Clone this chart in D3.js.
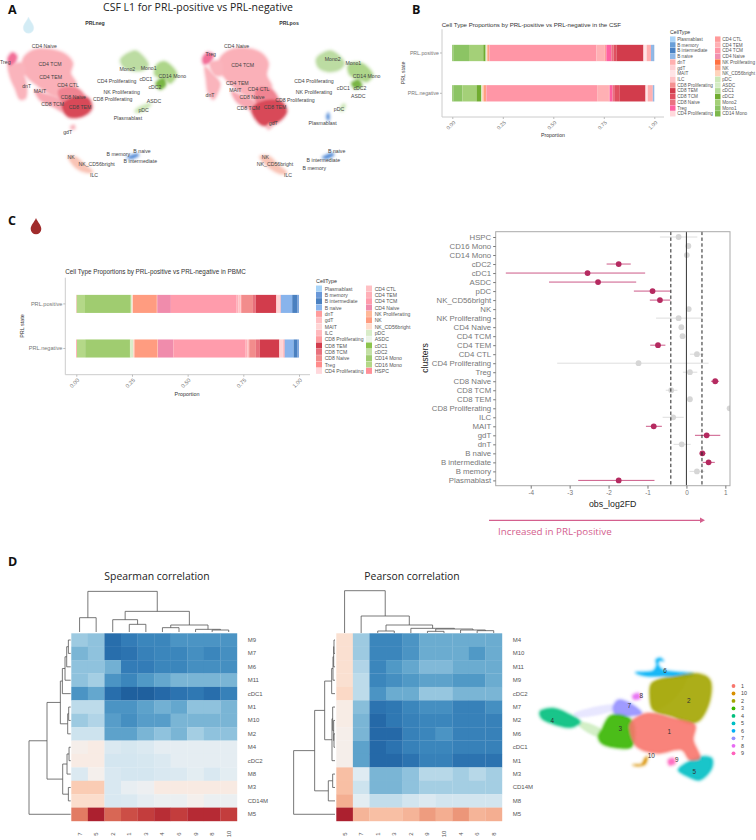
<!DOCTYPE html>
<html><head><meta charset="utf-8">
<script src="https://cdn.jsdelivr.net/npm/d3@7"></script>
<style>
html,body{margin:0;padding:0;background:#fff}
svg{display:block}
text{font-family:"Liberation Sans",Arial,sans-serif}
.os{font-family:"Open Sans",sans-serif}
</style></head><body>
<svg id="fig" width="756" height="840"></svg>
<script>
// ---------- Panel B data (legend order, stacked right to left)
const csfTypes=["Plasmablast","B memory","B intermediate","B naive","dnT","gdT","MAIT","ILC","CD8 Proliferating","CD8 TEM","CD8 TCM","CD8 Naive","Treg","CD4 Proliferating","CD4 CTL","CD4 TEM","CD4 TCM","CD4 Naive","NK Proliferating","NK","NK_CD56bright","pDC","ASDC","cDC1","cDC2","Mono2","Mono1","CD14 Mono"];
const csfColors=["#aad4f8","#6a9fd8","#4a82c4","#90b8e8","#ffb0b0","#ffd0d4","#ffe4e6","#ffc4c8","#f49090","#d23c4c","#e05060","#ea7080","#ff60a0","#ffd8dc","#ff9a9a","#ffb0b4","#ff96a6","#f090b0","#ff7040","#ffa080","#ffd4bc","#cce8b8","#d4ecc4","#b4dc98","#70ac30","#a4d078","#8cc464","#7cb84c"];
const csfPositive=[.0005,.002,.002,.012,.021,.002,.013,.001,.001,.134,.013,.012,.025,.001,.008,.040,.531,.002,.001,.008,.004,.002,.001,.002,.011,.071,.078,.005];
const csfNegative=[.0005,.001,.001,.005,.025,.002,.008,.001,.001,.128,.024,.012,.015,.001,.005,.056,.553,.002,.001,.012,.007,.002,.001,.002,.023,.071,.045,.005];
// ---------- Panel C data
const pbmcTypes=["Plasmablast","B memory","B intermediate","B naive","dnT","gdT","MAIT","ILC","CD8 Proliferating","CD8 TEM","CD8 TCM","CD8 Naive","Treg","CD4 Proliferating","CD4 CTL","CD4 TEM","CD4 TCM","CD4 Naive","NK Proliferating","NK","NK_CD56bright","pDC","ASDC","cDC1","cDC2","CD14 Mono","CD16 Mono","HSPC"];
const pbmcColors=["#a8d4f8","#6a98d8","#4a80c0","#88b4ec","#ff9c9c","#ffc0c4","#ffd4d4","#ffb8bc","#ff9ca0","#d23c4c","#e8707c","#f28c8c","#ff8c8c","#ffd8dc","#ffc0c4","#ffb0b8","#ff9cac","#f08cac","#ffb898","#ff9c80","#ffdccc","#d8ecc8","#ecf4e8","#8cc44c","#c4e0a4","#a0cc70","#b4d888","#ff9098"];
const pbmcPositive=[.0005,.006,.024,.051,.002,.004,.012,.002,.001,.091,.013,.050,.004,.001,.010,.008,.295,.061,.002,.107,.004,.003,.001,.001,.001,.205,.037,.002];
const pbmcNegative=[.0005,.006,.018,.040,.003,.006,.013,.002,.001,.087,.018,.030,.003,.001,.005,.007,.326,.070,.002,.104,.006,.009,.002,.001,.002,.202,.037,.003];
const stateLabels=["PRL.positive","PRL.negative"];
const proportionTicks=[0,.25,.5,.75,1];
// ---------- Forest plot data
const forestClusters=["HSPC","CD16 Mono","CD14 Mono","cDC2","cDC1","ASDC","pDC","NK_CD56bright","NK","NK Proliferating","CD4 Naive","CD4 TCM","CD4 TEM","CD4 CTL","CD4 Proliferating","Treg","CD8 Naive","CD8 TCM","CD8 TEM","CD8 Proliferating","ILC","MAIT","gdT","dnT","B naive","B intermediate","B memory","Plasmablast"];
const forestFD=[-.2,.05,.01,-1.74,-2.54,-2.27,-.87,-.68,.06,-.2,-.13,-.10,-.73,.27,-1.23,.09,.74,-.39,.09,1.11,-.34,-.84,.52,-.12,.41,.57,.27,-1.74];
const forestLow=[-.68,.03,-.01,-2.05,-4.64,-3.53,-1.35,-.94,.04,-.78,-.15,-.12,-.93,.09,-3.32,-.09,.63,-.53,.07,1.09,-.61,-1.04,.22,-.33,.35,.42,.08,-2.78];
const forestHigh=[.28,.07,.03,-1.43,-1.06,-1.29,-.41,-.41,.08,.39,-.11,-.08,-.54,.44,.57,.28,.84,-.23,.11,1.13,-.07,-.63,.87,.11,.49,.73,.46,-.82];
const forestSignificant=[0,0,0,1,1,1,1,1,0,0,0,0,1,0,0,0,1,0,0,0,0,1,1,0,1,1,0,1];
const forestTicks=[-4,-3,-2,-1,0,1];
const forestThresholds=[-.4,.4];
// ---------- Heatmap data
const spearmanCols=["7","5","2","1","3","4","6","9","8","10"];
const spearmanRows=["M9","M7","M6","M11","cDC1","M1","M10","M2","M4","cDC2","M8","M3","CD14M","M5"];
const spearmanValues=[
[-.36,-.40,-.76,-.70,-.66,-.66,-.60,-.60,-.60,-.60],
[-.46,-.40,-.76,-.74,-.68,-.66,-.66,-.62,-.66,-.62],
[-.40,-.40,-.48,-.70,-.70,-.66,-.66,-.62,-.62,-.62],
[-.40,-.34,-.60,-.66,-.58,-.52,-.46,-.46,-.46,-.46],
[-.60,-.52,-.76,-.82,-.82,-.78,-.74,-.72,-.76,-.68],
[-.26,-.26,-.60,-.60,-.54,-.48,-.52,-.40,-.40,-.46],
[-.36,-.30,-.56,-.62,-.56,-.56,-.46,-.46,-.46,-.46],
[-.20,-.20,-.54,-.54,-.46,-.40,-.46,-.34,-.40,-.40],
[.03,.07,-.14,-.16,-.14,-.09,-.09,-.09,-.09,-.09],
[.07,.07,-.17,-.17,-.16,-.14,-.09,-.09,-.09,-.09],
[-.14,.02,-.15,-.17,-.17,-.15,-.14,-.10,-.15,-.10],
[.25,.25,-.15,-.07,-.04,.08,.08,.08,.08,.08],
[.17,.17,-.15,-.14,-.09,-.05,-.05,.02,-.05,-.05],
[.52,.80,.58,.65,.70,.75,.70,.76,.76,.70]];
const pearsonCols=["5","7","1","3","2","9","10","4","6","8"];
const pearsonRows=["M4","M10","M11","M9","cDC2","M7","M2","M6","cDC1","M1","M3","CD14M","M8","M5"];
const pearsonValues=[
[.15,-.36,-.66,-.66,-.60,-.50,-.50,-.50,-.50,-.50],
[.15,-.36,-.66,-.66,-.60,-.50,-.50,-.50,-.58,-.50],
[.15,-.30,-.66,-.58,-.52,-.44,-.44,-.50,-.50,-.50],
[.15,-.26,-.66,-.62,-.58,-.54,-.54,-.58,-.58,-.50],
[.19,-.26,-.60,-.50,-.50,-.38,-.38,-.46,-.46,-.46],
[.06,-.42,-.74,-.72,-.66,-.62,-.62,-.68,-.68,-.62],
[.06,-.46,-.78,-.72,-.68,-.66,-.66,-.68,-.68,-.68],
[.03,-.46,-.78,-.78,-.68,-.66,-.60,-.68,-.68,-.68],
[.03,-.54,-.78,-.74,-.68,-.66,-.66,-.68,-.68,-.68],
[.03,-.54,-.78,-.78,-.74,-.68,-.68,-.74,-.74,-.74],
[.30,-.12,-.46,-.46,-.40,-.28,-.28,-.34,-.28,-.34],
[.30,-.20,-.46,-.46,-.40,-.34,-.34,-.34,-.34,-.34],
[.36,-.10,-.24,-.24,-.18,-.14,-.18,-.18,-.18,-.18],
[.80,.34,.30,.30,.34,.42,.36,.44,.34,.36]];
// dendrograms: [height, left, right]; a string is a leaf
const spearmanColTree=[122,[43,"7","5"],[62,[37,"2",[23,"1","3"]],[21,[13,"4","6"],[8,"9",[6,"8","10"]]]]];
const spearmanRowTree=[125,[71,[31,[25,[17,[12,[7,"M9","M7"],"M6"],"M11"],"cDC1"],[9,[6,"M1","M10"],"M2"]],[24,[11,[5,"M4","cDC2"],"M8"],[7,"M3","CD14M"]]],"M5"];
const pearsonColTree=[127,"5",[51,"7",[24,[6,"1","3"],[14,"2",[12,[5,"9","10"],[9,"4",[7,"6","8"]]]]]]];
const pearsonRowTree=[124,[61,[31,[10,[6,[4,[3,"M4","M10"],"M11"],"M9"],"cDC2"],[9,[7,"M7",[4,"M2",[3,"M6","cDC1"]]],"M1"]],[20,[7,"M3","CD14M"],"M8"]],"M5"];
// ---------- UMAP outlines, in a shared reading grid of the picture
const umapColors={tcell:"#fab0b8",strip:"#f8a8b2",dnt:"#fab4bc",cd8n:"#f08492",cd8t:"#d84a58",treg:"#f27098",gdt:"#f8b8c0",mono:"#bcdca2",cd14:"#aed68a",cdc2:"#79b544",pdc:"#cfe8ba",nk:"#f9c4b6",bcell:"#5a90d8"};
const csfNegBlobs=[
["tcell",[[70,175],[100,150],[150,148],[195,162],[218,188],[212,220],[228,250],[215,270],[175,290],[145,280],[110,255],[85,235],[68,205]]],
["strip",[[105,270],[130,280],[180,300],[190,335],[160,320],[120,300]]],
["dnt",[[25,195],[45,200],[70,225],[80,260],[76,295],[60,298],[45,265],[30,230]]],
["dnt",[[40,195],[70,190],[75,225],[60,220]]],
["cd8n",[[175,270],[225,262],[255,290],[250,320],[200,320],[180,300]]],
["cd8t",[[185,315],[225,290],[265,295],[275,325],[250,348],[205,350]]],
["treg",[[25,172],[38,158],[50,168],[46,185],[30,197],[24,185]]],
["gdt",[[212,380],[222,375],[225,385],[215,388]]],
["mono",[[362,178],[405,152],[425,165],[445,195],[430,210],[400,212],[370,200]]],
["cd14",[[470,195],[495,185],[530,222],[510,250],[495,238],[465,225]]],
["cdc2",[[468,250],[490,235],[497,255],[480,268]]],
["pdc",[[405,335],[412,325],[450,310],[452,315],[420,337]]],
["nk",[[205,470],[225,470],[255,495],[278,515],[262,518],[230,505]]],
["bcell",[[382,472],[412,462],[415,466],[395,476]]]];
const csfPosBlobs=[
["tcell",[[660,175],[690,150],[740,145],[785,160],[805,188],[800,225],[815,260],[800,280],[765,295],[735,285],[700,260],[675,235],[658,205]]],
["strip",[[695,275],[720,285],[770,310],[780,345],[750,330],[710,305]]],
["dnt",[[615,200],[640,225],[660,250],[650,285],[640,298],[625,280],[618,235]]],
["dnt",[[630,190],[665,185],[665,225],[645,225]]],
["cd8n",[[770,265],[810,265],[835,300],[825,325],[780,325],[765,295]]],
["cd8t",[[755,325],[800,300],[845,305],[860,335],[830,368],[785,375]]],
["treg",[[608,175],[622,158],[640,165],[630,185],[612,192]]],
["gdt",[[800,378],[812,368],[815,380],[805,388]]],
["mono",[[950,175],[990,152],[1015,165],[1033,190],[1020,208],[985,215],[955,202]]],
["cd14",[[1045,195],[1085,190],[1118,225],[1100,245],[1080,238],[1050,225]]],
["cdc2",[[1055,250],[1075,240],[1085,258],[1065,265]]],
["pdc",[[1020,330],[1030,312],[1036,315],[1028,333]]],
["bcell",[[980,350],[985,340],[988,352],[985,360]]],
["nk",[[780,470],[805,468],[835,495],[860,518],[845,522],[810,505]]],
["bcell",[[968,472],[998,460],[1000,466],[980,476]]]];
const csfNegLabels=[["CD4 Naive",133,138],["CD4 TCM",150,192],["Treg",16,187],["CD4 TEM",152,230],["CD4 CTL",204,254],["dnT",80,259],["MAIT",120,272],["CD8 Naive",220,290],["CD8 TCM",158,311],["CD8 TEM",240,322],["gdT",203,397],["Mono2",382,206],["Mono1",446,205],["CD14 Mono",517,228],["cDC1",438,238],["cDC2",465,260],["CD4 Proliferating",350,244],["NK Proliferating",365,275],["CD8 Proliferating",338,296],["ASDC",462,304],["pDC",431,331],["Plasmablast",384,353],["B memory",355,462],["B naive",426,453],["B intermediate",421,483],["NK",213,471],["NK_CD56bright",290,491],["ILC",282,526]];
const csfPosLabels=[["CD4 Naive",710,138],["Treg",632,163],["CD4 TCM",728,194],["CD4 TEM",712,248],["CD4 CTL",776,268],["MAIT",706,270],["dnT",630,285],["CD8 Naive",756,292],["CD8 Proliferating",885,301],["CD8 TCM",745,324],["CD8 TEM",825,322],["gdT",820,370],["Mono2",998,177],["Mono1",1060,190],["CD14 Mono",1100,227],["CD4 Proliferating",942,244],["NK Proliferating",942,277],["cDC1",1030,265],["cDC2",1080,264],["ASDC",1075,287],["pDC",1017,327],["Plasmablast",968,368],["B naive",1010,453],["B intermediate",970,481],["B memory",943,503],["NK",796,471],["NK_CD56bright",825,492],["ILC",864,526]];
const clusterNames=["1","10","2","3","4","5","6","7","8","9"];
const clusterColors=["#f8766d","#d89000","#a3a500","#39b600","#00bf7d","#00bfc4","#00b0f6","#9590ff","#e76bf3","#ff62bc"];
const clusterBlobs=[
["6",[[318,248],[370,242],[380,225],[378,210],[390,204],[400,212],[388,212],[385,225],[400,240],[490,252],[470,260],[400,258],[350,258]]],
["4",[[30,365],[70,355],[115,372],[150,395],[125,412],[70,402],[35,385]]],
["7",[[250,350],[265,330],[300,340],[335,370],[290,378],[255,372]]],
["8",[[308,317],[325,310],[331,324],[312,328]]],
["2",[[365,280],[420,262],[510,252],[540,270],[540,330],[510,390],[480,400],[430,380],[370,360],[360,320]]],
["3",[[215,420],[240,378],[280,375],[310,400],[305,470],[250,472],[215,460],[205,440]]],
["5",[[445,540],[475,515],[510,500],[545,505],[545,535],[510,570],[475,560]]],
["1",[[300,400],[350,370],[430,385],[495,405],[490,450],[510,505],[480,510],[455,480],[380,490],[320,470],[300,430]]],
["9",[[415,510],[430,505],[435,520],[418,525]]],
["10",[[310,525],[335,522],[345,505],[352,500],[345,523],[325,528]]]];
const clusterTrails=[
["7",[[130,372],[250,345],[255,358],[140,382]]],
["3",[[150,395],[215,420],[205,440],[145,405]]],
["2",[[360,300],[395,262],[470,262],[430,330],[370,360]]]];
const clusterLabels=[["1",418,425],["2",476,332],["3",271,415],["4",67,392],["5",493,545],["6",405,240],["7",298,347],["8",334,316],["9",440,508],["10",364,496]];

const svg=d3.select("#fig");
const defs=svg.append("defs");
defs.append("filter").attr("id","soft").attr("x","-10%").attr("y","-10%").attr("width","120%").attr("height","120%").append("feGaussianBlur").attr("stdDeviation",1.3);
defs.append("clipPath").attr("id","forestClip").append("rect").attr("x",495.7).attr("y",231.7).attr("width",234.3).attr("height",254);

function txt(x,y,s,o={}){
  const t=svg.append("text").attr("x",x).attr("y",y).text(s)
   .attr("font-size",o.size||6).attr("fill",o.fill||"#444").attr("text-anchor",o.anchor||"start")
   .attr("dominant-baseline","central");
  if(o.cls)t.attr("class",o.cls);
  if(o.weight)t.attr("font-weight",o.weight);
  if(o.rotate!=null)t.attr("transform",`rotate(${o.rotate} ${x} ${y})`);
  return t;
}
// panel letters and titles
[["A",8,9],["B",412,9],["C",8,220],["D",8,561]].forEach(d=>txt(d[1],d[2],d[0],{size:12.5,fill:"#111",weight:"bold",cls:"os"}));
txt(198,7,"CSF L1 for PRL-positive vs PRL-negative",{size:10.5,anchor:"middle",fill:"#222",cls:"os"});
txt(95,23,"PRLneg",{size:5.2,anchor:"middle",weight:"bold",fill:"#333"});
txt(289,23,"PRLpos",{size:5.2,anchor:"middle",weight:"bold",fill:"#333"});
// droplets
const dropPath="M0,-8 C1.5,-4 5.3,-1 5.3,3 A5.3,5.3 0 0 1 -5.3,3 C-5.3,-1 -1.5,-4 0,-8Z";
svg.append("path").attr("d",dropPath).attr("transform","translate(28.5,25)").attr("fill","#d3ecf5").attr("stroke","#e4f3f8").attr("stroke-width",.5);
svg.append("path").attr("d",dropPath).attr("transform","translate(36,226)").attr("fill","#a02c2c");

// UMAP drawing
const gridX=d3.scaleLinear().domain([0,1200]).range([0,400]);
const gridY=d3.scaleLinear().domain([0,600]).range([0,200]);
const blob=d3.line().x(d=>gridX(d[0])).y(d=>gridY(d[1])).curve(d3.curveCatmullRomClosed);
const ga=svg.append("g").attr("filter","url(#soft)");
const csfAll=csfNegBlobs.concat(csfPosBlobs);
csfAll.forEach(b=>ga.append("path").attr("d",blob(b[1])).attr("fill","none").attr("stroke",umapColors[b[0]]).attr("stroke-width",4).attr("opacity",.3));
csfAll.forEach(b=>ga.append("path").attr("d",blob(b[1])).attr("fill",umapColors[b[0]]));
csfNegLabels.concat(csfPosLabels).forEach(l=>txt(gridX(l[1]),gridY(l[2]),l[0],{size:5.2,anchor:"middle",fill:"#444"}));

// stacked bars
function stacked(c){
  const x=d3.scaleLinear().domain([0,1]).range([c.x0,c.x1]);
  const y=d3.scaleBand().domain(stateLabels).range([c.top,c.bottom]).paddingInner(.595).paddingOuter(.385);
  const rows=stateLabels.map((s,i)=>{const r={state:s};c.types.forEach((t,j)=>r[t]=c.values[i][j]);return r;});
  const keys=c.types.slice().reverse();
  const series=d3.stack().keys(keys).offset(d3.stackOffsetExpand)(rows);
  const color=d3.scaleOrdinal().domain(c.types).range(c.colors);
  const g=svg.append("g");
  g.selectAll("g").data(series).join("g").attr("fill",d=>color(d.key))
   .selectAll("rect").data(d=>d).join("rect")
   .attr("x",d=>x(d[0])).attr("width",d=>Math.max(0,x(d[1])-x(d[0])))
   .attr("y",d=>y(d.data.state)).attr("height",y.bandwidth());
  const ax=svg.append("g").attr("transform",`translate(0,${c.bottom})`).call(d3.axisBottom(x).tickValues(proportionTicks).tickFormat(d3.format(".2f")).tickSize(2).tickSizeOuter(0));
  ax.select(".domain").attr("stroke","#ccc").attr("stroke-width",1).attr("d",`M${c.left},0H${c.right}`);
  ax.selectAll("line").attr("stroke","#bbb");
  ax.selectAll("text").attr("font-family","Liberation Sans").attr("font-size",c.tick).attr("fill","#777").attr("text-anchor","end").attr("dy",0).attr("y",0).attr("transform","translate(1.5,4.5) rotate(-45)").attr("dominant-baseline","central");
  const ay=svg.append("g").attr("transform",`translate(${c.left},0)`).call(d3.axisLeft(y).tickSize(2).tickSizeOuter(0));
  ay.select(".domain").attr("stroke","#ccc").attr("stroke-width",1).attr("d",`M0,${c.top}V${c.bottom}`);
  ay.selectAll("line").attr("stroke","#bbb");
  ay.selectAll("text").attr("font-family","Liberation Sans").attr("font-size",c.tick).attr("fill","#777").attr("x",-3);
  txt(c.title[0],c.title[1],c.title[2],{size:c.titleSize,fill:"#333"});
  txt(c.xlab[0],c.xlab[1],"Proportion",{size:c.lab,anchor:"middle",fill:"#333"});
  txt(c.ylab[0],c.ylab[1],"PRL state",{size:c.lab,anchor:"middle",fill:"#333",rotate:-90});
  // legend
  const L=c.legend;
  txt(L.x,L.y,"CellType",{size:L.titleSize,fill:"#333"});
  c.types.forEach((t,i)=>{
    const col=i<14?0:1,row=i%14,px=L.x+col*L.colStep,py=L.top+row*L.step;
    svg.append("rect").attr("x",px).attr("y",py-L.step/2).attr("width",L.box).attr("height",L.step-.3).attr("fill",c.colors[i]);
    txt(px+L.box+L.gap,py,t,{size:L.size,fill:"#555"});
  });
}
stacked({types:csfTypes,colors:csfColors,values:[csfPositive,csfNegative],x0:452.3,x1:654.3,left:442,right:664,top:29.3,bottom:117,tick:5.2,
 title:[441.7,24,"Cell Type Proportions by PRL-positive vs PRL-negative in the CSF"],titleSize:6.1,lab:5.2,xlab:[553,135],ylab:[403,73],
 legend:{x:670,y:32,titleSize:5.2,top:39.3,step:5.74,colStep:45,box:5.5,gap:1.7,size:4.7}});
stacked({types:pbmcTypes,colors:pbmcColors,values:[pbmcPositive,pbmcNegative],x0:76.3,x1:299,left:65.3,right:310,top:277.7,bottom:374.7,tick:5.6,
 title:[65.3,271.5,"Cell Type Proportions by PRL-positive vs PRL-negative in PBMC"],titleSize:6.3,lab:5.4,xlab:[187,393.7],ylab:[22,326],
 legend:{x:316,y:281,titleSize:5.4,top:288.7,step:6.33,colStep:50,box:6,gap:2.7,size:5.1}});

// forest plot
const fx=d3.scaleLinear().domain([-4.9,1.12]).range([495.7,730]);
const fy=d3.scalePoint().domain(forestClusters).range([237,480.4]);
const pointRed="#b52a60",lineRed="#cc5a88",grey="#d6d6d6";
const fg=svg.append("g").attr("clip-path","url(#forestClip)");
fg.selectAll("line.err").data(forestClusters).join("line").attr("class","err")
 .attr("x1",(d,i)=>fx(forestLow[i])).attr("x2",(d,i)=>fx(forestHigh[i])).attr("y1",d=>fy(d)).attr("y2",d=>fy(d))
 .attr("stroke",(d,i)=>forestSignificant[i]?lineRed:grey).attr("stroke-width",(d,i)=>forestSignificant[i]?1:.8);
fg.selectAll("circle").data(forestClusters).join("circle").attr("cx",(d,i)=>fx(forestFD[i])).attr("cy",d=>fy(d)).attr("r",2.9)
 .attr("fill",(d,i)=>forestSignificant[i]?pointRed:grey);
svg.append("line").attr("x1",fx(0)).attr("x2",fx(0)).attr("y1",231.7).attr("y2",485.7).attr("stroke","#333").attr("stroke-width",1);
forestThresholds.forEach(v=>svg.append("line").attr("x1",fx(v)).attr("x2",fx(v)).attr("y1",231.7).attr("y2",485.7).attr("stroke","#222").attr("stroke-width",1).attr("stroke-dasharray","3.4 2.4"));
svg.append("rect").attr("x",495.7).attr("y",231.7).attr("width",234.3).attr("height",254).attr("fill","none").attr("stroke","#aaa");
const fax=svg.append("g").attr("transform","translate(0,485.7)").call(d3.axisBottom(fx).tickValues(forestTicks).tickFormat(d=>d).tickSize(3).tickSizeOuter(0));
fax.select(".domain").remove();fax.selectAll("line").attr("stroke","#777");
fax.selectAll("text").attr("font-family","Liberation Sans").attr("font-size",6.4).attr("fill","#777").attr("dy",0).attr("y",7).attr("dominant-baseline","central");
const fay=svg.append("g").attr("transform","translate(495.7,0)").call(d3.axisLeft(fy).tickSize(2.5).tickSizeOuter(0));
fay.select(".domain").remove();fay.selectAll("line").attr("stroke","#777");
fay.selectAll("text").attr("font-family","Liberation Sans").attr("font-size",7.8).attr("fill","#777").attr("x",-4.5);
txt(425,358,"clusters",{size:8.6,anchor:"middle",fill:"#222",rotate:-90});
txt(612.7,504,"obs_log2FD",{size:8.8,anchor:"middle",fill:"#222"});
svg.append("line").attr("x1",489).attr("x2",702).attr("y1",520.3).attr("y2",520.3).attr("stroke","#d4608e").attr("stroke-width",1.2);
svg.append("path").attr("d",d3.line()([[700,517.6],[705,520.3],[700,523]])+"Z").attr("fill","#d4608e");
txt(498,531,"Increased in PRL-positive",{size:9.8,fill:"#d4608e",cls:"os"});

// heatmaps with dendrograms
const corrColor=v=>d3.interpolateRdBu((1-v)/2);
function heat(c){
  const x=d3.scaleBand().domain(c.cols).range([c.x0,c.x1]);
  const y=d3.scaleBand().domain(c.rows).range([633.3,821]);
  c.values.forEach((r,i)=>r.forEach((v,j)=>svg.append("rect").attr("x",x(c.cols[j])).attr("y",y(c.rows[i]))
    .attr("width",x.bandwidth()+.2).attr("height",y.bandwidth()+.2).attr("fill",corrColor(v))));
  c.rows.forEach(r=>txt(c.labelX,y(r)+y.bandwidth()/2,r,{size:6,fill:"#555"}));
  c.cols.forEach(k=>txt(x(k)+x.bandwidth()/2,834,k,{size:6,anchor:"middle",fill:"#555",rotate:-90}));
  txt(c.title[0],576,c.title[1],{size:10.4,anchor:"middle",fill:"#222",cls:"os"});
  // dendrograms
  const topH=d3.scaleLinear().domain([0,127]).range([c.colBase,c.colBase-42.3]);
  const leftH=d3.scaleLinear().domain([0,125]).range([c.rowBase,c.rowBase-41.7]);
  const g=svg.append("g").attr("fill","none").attr("stroke","#555").attr("stroke-width",.8);
  function walk(n,pos,hs,horizontal){
    if(typeof n==="string")return{p:pos(n)+(horizontal?x:y).bandwidth()/2,h:0};
    const a=walk(n[1],pos,hs,horizontal),b=walk(n[2],pos,hs,horizontal),h=n[0];
    const P=d3.path();
    if(horizontal){P.moveTo(a.p,hs(a.h));P.lineTo(a.p,hs(h));P.lineTo(b.p,hs(h));P.lineTo(b.p,hs(b.h));}
    else{P.moveTo(hs(a.h),a.p);P.lineTo(hs(h),a.p);P.lineTo(hs(h),b.p);P.lineTo(hs(b.h),b.p);}
    g.append("path").attr("d",P.toString());
    return{p:(a.p+b.p)/2,h};
  }
  walk(c.colTree,x,topH,true);
  walk(c.rowTree,y,leftH,false);
}
heat({cols:spearmanCols,rows:spearmanRows,values:spearmanValues,x0:71.3,x1:237,labelX:247.7,title:[157,"Spearman correlation"],colTree:spearmanColTree,rowTree:spearmanRowTree,colBase:632,rowBase:70.7});
heat({cols:pearsonCols,rows:pearsonRows,values:pearsonValues,x0:336.3,x1:502,labelX:512.7,title:[412,"Pearson correlation"],colTree:pearsonColTree,rowTree:pearsonRowTree,colBase:633,rowBase:335});

// cell map on the right of panel D
const mapX=d3.scaleLinear().domain([0,678]).range([530,756]);
const mapY=d3.scaleLinear().domain([0,510]).range([590,760]);
const mapLine=d3.line().x(d=>mapX(d[0])).y(d=>mapY(d[1])).curve(d3.curveCatmullRomClosed);
const clusterColor=d3.scaleOrdinal().domain(clusterNames).range(clusterColors);
const gm=svg.append("g").attr("filter","url(#soft)");
clusterTrails.forEach(b=>gm.append("path").attr("d",mapLine(b[1])).attr("fill",clusterColor(b[0])).attr("opacity",.22));
clusterBlobs.forEach(b=>gm.append("path").attr("d",mapLine(b[1])).attr("fill","none").attr("stroke",clusterColor(b[0])).attr("stroke-width",4).attr("opacity",.25));
clusterBlobs.forEach(b=>gm.append("path").attr("d",mapLine(b[1])).attr("fill",clusterColor(b[0])).attr("opacity",.9));
clusterLabels.forEach(l=>txt(mapX(l[1]),mapY(l[2]),l[0],{size:6.4,anchor:"middle",fill:"#333"}));
const legendY=d3.scalePoint().domain(clusterNames).range([686,753.3]);
clusterNames.forEach(n=>{
  svg.append("circle").attr("cx",733.5).attr("cy",legendY(n)).attr("r",1.9).attr("fill",clusterColor(n));
  txt(741,legendY(n),n,{size:5.4,fill:"#444"});
});
</script>
</body></html>
